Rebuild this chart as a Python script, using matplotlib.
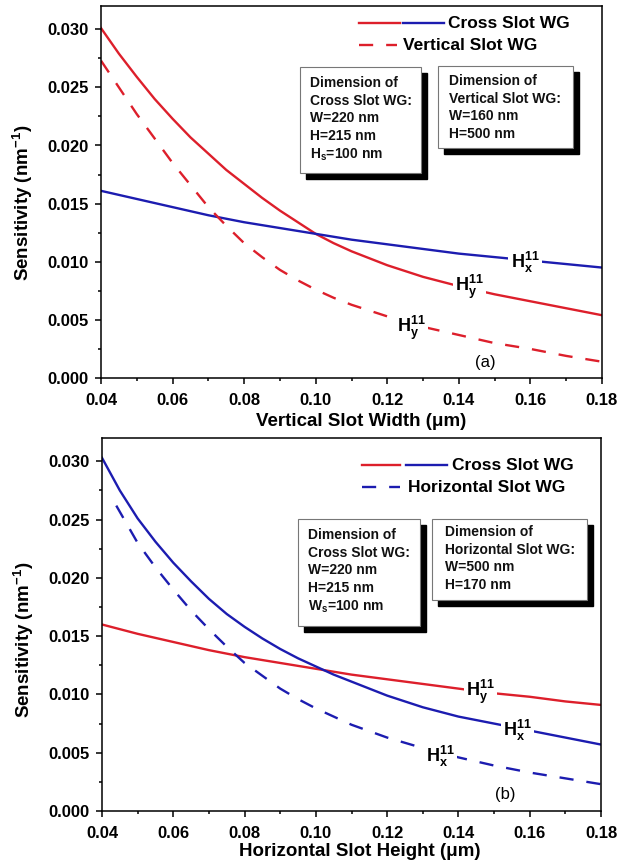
import matplotlib
matplotlib.use("Agg")
import matplotlib.pyplot as plt
from matplotlib.patches import Rectangle
from matplotlib.lines import Line2D
from matplotlib.ticker import MultipleLocator, FormatStrFormatter

plt.rcParams['font.family'] = ['Liberation Sans', 'DejaVu Sans']
plt.rcParams['font.weight'] = 'bold'
plt.rcParams['mathtext.fontset'] = 'custom'
plt.rcParams['mathtext.rm'] = 'Liberation Sans:bold'
plt.rcParams['mathtext.bf'] = 'Liberation Sans:bold'
plt.rcParams['mathtext.it'] = 'Liberation Sans:bold'
plt.rcParams['mathtext.default'] = 'rm'

# ---------------- data ----------------
x_coarse = [0.04, 0.05, 0.06, 0.07, 0.08, 0.09, 0.10, 0.11, 0.12, 0.13, 0.14, 0.15, 0.16, 0.17, 0.18]
x_fine = [0.04, 0.045, 0.05, 0.055, 0.06, 0.065, 0.07, 0.075, 0.08, 0.085, 0.09, 0.095, 0.10,
          0.105, 0.11, 0.115, 0.12, 0.13, 0.14, 0.15, 0.16, 0.17, 0.18]

# panel (a): vs vertical slot width
a_cross_hy = [0.0301, 0.0279, 0.0259, 0.0240, 0.0223, 0.0207, 0.0193, 0.0179, 0.0167, 0.0155,
              0.0144, 0.0134, 0.0124, 0.0116, 0.0109, 0.0103, 0.0097, 0.0087, 0.0079, 0.0072,
              0.0066, 0.0060, 0.0054]
a_cross_hx = [0.0161, 0.0154, 0.0147, 0.0140, 0.0134, 0.0129, 0.0124, 0.0119, 0.0115, 0.0111,
              0.0107, 0.0104, 0.0101, 0.0098, 0.0095]
a_vert_hy = [0.0273, 0.0250, 0.0227, 0.0206, 0.0185, 0.0166, 0.0147, 0.0131, 0.0116, 0.0104,
             0.0093, 0.0084, 0.0076, 0.0069, 0.0063, 0.0058, 0.0053, 0.0044, 0.0037, 0.0030,
             0.0025, 0.0019, 0.0014]

# panel (b): vs horizontal slot height
b_cross_hx = [0.0303, 0.0275, 0.0251, 0.0231, 0.0213, 0.0197, 0.0182, 0.0169, 0.0158, 0.0148,
              0.0139, 0.0131, 0.0124, 0.0117, 0.0111, 0.0105, 0.0099, 0.0089, 0.0081, 0.0075,
              0.0069, 0.0063, 0.0057]
b_cross_hy = [0.0160, 0.0152, 0.0145, 0.0138, 0.0132, 0.0127, 0.0122, 0.0117, 0.0113, 0.0109,
              0.0105, 0.0101, 0.0098, 0.0094, 0.0091]
x_horiz = [0.044, 0.05, 0.055, 0.06, 0.065, 0.07, 0.075, 0.08, 0.085, 0.09, 0.095, 0.10, 0.105,
           0.11, 0.12, 0.13, 0.14, 0.15, 0.16, 0.17, 0.18]
b_horiz_hx = [0.0262, 0.0230, 0.0209, 0.0190, 0.0172, 0.0156, 0.0141, 0.0127, 0.0116, 0.0105,
              0.0096, 0.0088, 0.0081, 0.0074, 0.0063, 0.0054, 0.0046, 0.0039, 0.0033, 0.0028,
              0.0023]

xticks = [0.04, 0.06, 0.08, 0.10, 0.12, 0.14, 0.16, 0.18]
yticks = [0.000, 0.005, 0.010, 0.015, 0.020, 0.025, 0.030]

RED = '#dd1f2b'
BLUE = '#1c1cb0'
LW = 1.7
DASH = (0, (6, 5.5))

fig = plt.figure(figsize=(6.39, 8.63), dpi=100)
W, H = 639, 863


def make_axes(l, r, t, b):
    return fig.add_axes([l / W, 1 - b / H, (r - l) / W, (b - t) / H])


def style_axes(ax, xlabel):
    ax.set_xlim(0.04, 0.18)
    ax.set_ylim(0, 0.032)
    ax.set_xticks(xticks)
    ax.set_yticks(yticks)
    ax.xaxis.set_minor_locator(MultipleLocator(0.01))
    ax.yaxis.set_minor_locator(MultipleLocator(0.0025))
    ax.xaxis.set_major_formatter(FormatStrFormatter('%.2f'))
    ax.yaxis.set_major_formatter(FormatStrFormatter('%.3f'))
    ax.tick_params(which='both', direction='out', top=False, right=False, width=1.1)
    ax.tick_params(which='major', length=4)
    ax.tick_params(which='minor', length=2.5)
    ax.tick_params(axis='x', which='major', pad=6.5, labelsize=12)
    ax.tick_params(axis='y', which='major', pad=5, labelsize=12)
    for s in ax.spines.values():
        s.set_linewidth(1.1)
    ax.set_xlabel(xlabel, fontsize=13.5, fontweight='bold')
    ax.set_ylabel(r'Sensitivity (nm$^{\mathbf{-1}}$)', fontsize=13.5, fontweight='bold')


def to_ax(axbox, xp, yp):
    l, r, t, b = axbox
    return (xp - l) / (r - l), (b - yp) / (b - t)


def shadow_box(ax, axbox, l, t, r, b, text, tl, tt):
    x0, y0 = to_ax(axbox, l, b)
    x1, y1 = to_ax(axbox, r, t)
    sx, sy = to_ax(axbox, l + 6, b + 6)
    sx1, sy1 = to_ax(axbox, r + 6, t + 6)
    ax.add_patch(Rectangle((sx, sy), sx1 - sx, sy1 - sy, transform=ax.transAxes,
                           facecolor='black', edgecolor='black', zorder=5, clip_on=False))
    ax.add_patch(Rectangle((x0, y0), x1 - x0, y1 - y0, transform=ax.transAxes,
                           facecolor='white', edgecolor='#777777', lw=0.8, zorder=6, clip_on=False))
    tx, ty = to_ax(axbox, tl, tt)
    ax.text(tx, ty, text, transform=ax.transAxes, fontsize=10, fontweight='bold',
            va='top', ha='left', linespacing=1.32, zorder=7, color='#111111')


def legend(ax, axbox, y1, y2, xl0, xl1, xb0, xb1, xt1, xl2a, xl2b, xt2, c2, label2):
    a, yy1 = to_ax(axbox, xl0, y1)
    b, _ = to_ax(axbox, xl1, y1)
    ax.add_line(Line2D([a, b], [yy1, yy1], transform=ax.transAxes, color=RED, lw=LW, clip_on=False))
    a, _ = to_ax(axbox, xb0, y1)
    b, _ = to_ax(axbox, xb1, y1)
    ax.add_line(Line2D([a, b], [yy1, yy1], transform=ax.transAxes, color=BLUE, lw=LW, clip_on=False))
    t, _ = to_ax(axbox, xt1, y1)
    ax.text(t, yy1, 'Cross Slot WG', transform=ax.transAxes, fontsize=12.5, fontweight='bold',
            va='center', ha='left')
    a, yy2 = to_ax(axbox, xl2a, y2)
    b, _ = to_ax(axbox, xl2b, y2)
    ax.add_line(Line2D([a, b], [yy2, yy2], transform=ax.transAxes, color=c2, lw=LW,
                       linestyle=DASH, clip_on=False))
    t, _ = to_ax(axbox, xt2, y2)
    ax.text(t, yy2, label2, transform=ax.transAxes, fontsize=12.5, fontweight='bold',
            va='center', ha='left')


def hlabel(ax, xx, yy, sub):
    ax.text(xx, yy, r'$\mathrm{H}_{\mathrm{%s}}^{\mathrm{11}}$' % sub, fontsize=13,
            ha='center', va='center', zorder=4,
            bbox=dict(facecolor='white', edgecolor='none', pad=1.5))


# ---------------- panel (a) ----------------
boxA = (101, 602, 6, 378)
axA = make_axes(*boxA[:2], *boxA[2:])
axA.plot(x_fine, a_cross_hy, color=RED, lw=LW, zorder=2)
axA.plot(x_coarse, a_cross_hx, color=BLUE, lw=LW, zorder=2)
axA.plot(x_fine, a_vert_hy, color=RED, lw=LW, linestyle=DASH, zorder=2)
style_axes(axA, 'Vertical Slot Width (μm)')
axA.xaxis.set_label_coords(0.52, -0.095)
axA.yaxis.set_label_coords(-0.132, 0.47)
hlabel(axA, 0.1585, 0.0099, 'x')
hlabel(axA, 0.1430, 0.0078, 'y')
hlabel(axA, 0.1268, 0.0043, 'y')
axA.text(0.1473, 0.0013, '(a)', fontsize=12, fontweight='normal', ha='center', va='center')
legend(axA, boxA, 23, 45, 359, 400, 403, 444, 448, 359, 397, 403, RED, 'Vertical Slot WG')
shadow_box(axA, boxA, 300, 67, 421, 173,
           'Dimension of\nCross Slot WG:\nW=220 nm\nH=215 nm\nH$_{\\mathrm{s}}$=100 nm', 310, 76)
shadow_box(axA, boxA, 438, 66, 573, 148,
           'Dimension of\nVertical Slot WG:\nW=160 nm\nH=500 nm', 449, 74)

# ---------------- panel (b) ----------------
boxB = (102, 601, 438, 811)
axB = make_axes(*boxB[:2], *boxB[2:])
axB.plot(x_coarse, b_cross_hy, color=RED, lw=LW, zorder=2)
axB.plot(x_fine, b_cross_hx, color=BLUE, lw=LW, zorder=2)
axB.plot(x_horiz, b_horiz_hx, color=BLUE, lw=LW, linestyle=DASH, zorder=2)
style_axes(axB, 'Horizontal Slot Height (μm)')
axB.xaxis.set_label_coords(0.517, -0.085)
axB.yaxis.set_label_coords(-0.132, 0.46)
hlabel(axB, 0.1463, 0.0102, 'y')
hlabel(axB, 0.1566, 0.0069, 'x')
hlabel(axB, 0.1349, 0.0047, 'x')
axB.text(0.1531, 0.0014, '(b)', fontsize=12, fontweight='normal', ha='center', va='center')
legend(axB, boxB, 465, 487, 362, 400, 406, 447, 452, 362, 400, 408, BLUE, 'Horizontal Slot WG')
shadow_box(axB, boxB, 298, 519, 420, 626,
           'Dimension of\nCross Slot WG:\nW=220 nm\nH=215 nm\nW$_{\\mathrm{s}}$=100 nm', 308, 528)
shadow_box(axB, boxB, 432, 519, 587, 600,
           'Dimension of\nHorizontal Slot WG:\nW=500 nm\nH=170 nm', 445, 525)

fig.savefig('out.png', dpi=100)
